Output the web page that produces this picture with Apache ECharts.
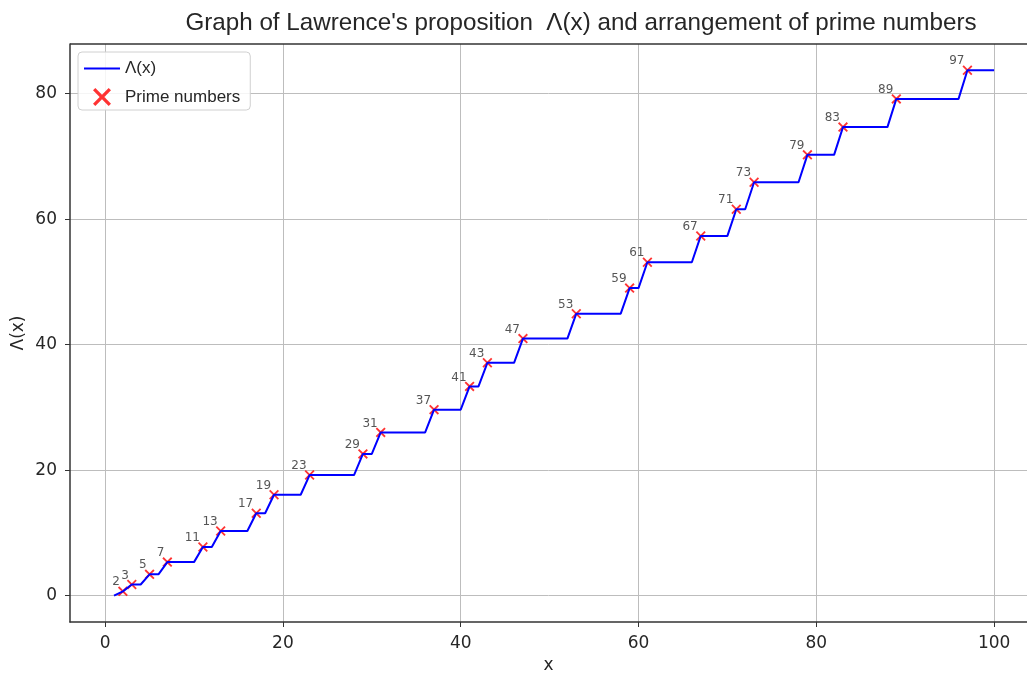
<!DOCTYPE html>
<html>
<head>
<meta charset="utf-8">
<script src="https://cdn.jsdelivr.net/npm/echarts@6/dist/echarts.min.js"></script>
<style>html,body{margin:0;padding:0;background:#fff}#c{width:1027px;height:673px}</style>
</head>
<body>
<div id="c"></div>
<script>
const primes = [2,3,5,7,11,13,17,19,23,29,31,37,41,43,47,53,59,61,67,71,73,79,83,89,97];
const lambdaAtPrimes = [0.69,1.79,3.40,5.35,7.75,10.31,13.14,16.08,19.22,22.59,26.02,29.64,33.35,37.11,40.96,44.93,49.01,53.12,57.32,61.58,65.87,70.24,74.66,79.15,83.72];
const lineX = [1,2,3,4,5,6,7,10,11,12,13,16,17,18,19,22,23,28,29,30,31,36,37,40,41,42,43,46,47,52,53,58,59,60,61,66,67,70,71,72,73,78,79,82,83,88,89,96,97,100];
const lineY = [0,0.69,1.79,1.79,3.40,3.40,5.35,5.35,7.75,7.75,10.31,10.31,13.14,13.14,16.08,16.08,19.22,19.22,22.59,22.59,26.02,26.02,29.64,29.64,33.35,33.35,37.11,37.11,40.96,40.96,44.93,44.93,49.01,49.01,53.12,53.12,57.32,57.32,61.58,61.58,65.87,65.87,70.24,70.24,74.66,74.66,79.15,79.15,83.72,83.72];
const xTicks = [0,20,40,60,80,100];
const yTicks = [0,20,40,60,80];

const txt = '#262626';
const font = 'Liberation Sans, Arial, sans-serif';
const mfont = 'DejaVu Sans, sans-serif';
const crossPath = 'path://M0,1.3L1.3,0L5,3.7L8.7,0L10,1.3L6.3,5L10,8.7L8.7,10L5,6.3L1.3,10L0,8.7L3.7,5Z';

const chart = echarts.init(document.getElementById('c'), null, {renderer: 'canvas'});
chart.setOption({
  animation: false,
  backgroundColor: '#fff',
  textStyle: {fontFamily: font},
  title: {
    text: "Graph of Lawrence's proposition  \u039b(x) and arrangement of prime numbers",
    left: 576, top: 6, textAlign: 'center',
    textStyle: {fontSize: 24.2, fontWeight: 'normal', color: txt, fontFamily: font}
  },
  legend: {
    orient: 'vertical', left: 78, top: 52,
    padding: [8, 10, 4, 6],
    itemGap: 11, itemWidth: 36, itemHeight: 18,
    borderColor: '#d0d0d0', borderWidth: 1, borderRadius: 4,
    backgroundColor: 'rgba(255,255,255,0.85)',
    textStyle: {fontSize: 17, color: txt, fontFamily: font},
    data: [
      {name: '\u039b(x)', icon: 'path://M0,8H36V10H0Z'},
      {name: 'Prime numbers', icon: crossPath}
    ]
  },
  grid: {left: 70, top: 44, width: 957, height: 578, outerBoundsMode: 'none', containLabel: false},
  xAxis: {
    type: 'value', min: -3.95, max: 103.7,
    name: 'x', nameLocation: 'middle', nameGap: 35,
    nameTextStyle: {fontSize: 17, color: txt, fontFamily: mfont},
    axisLine: {show: true, onZero: false, lineStyle: {color: '#333', width: 1.5}},
    axisTick: {show: true, length: 5, customValues: xTicks, lineStyle: {color: '#333'}},
    axisLabel: {customValues: xTicks, fontSize: 17, color: txt, margin: 13, fontFamily: mfont},
    splitLine: {show: true, lineStyle: {color: '#bdbdbd', width: 1}}
  },
  yAxis: {
    type: 'value', min: -4.19, max: 87.9,
    name: '\u039b(x)', nameLocation: 'middle', nameGap: 43, nameRotate: 90,
    nameMoveOverlap: false,
    nameTextStyle: {fontSize: 17, color: txt, fontFamily: mfont},
    axisLine: {show: true, onZero: false, lineStyle: {color: '#333', width: 1.5}},
    axisTick: {show: true, length: 5, customValues: yTicks, lineStyle: {color: '#333'}},
    axisLabel: {customValues: yTicks, fontSize: 17, color: txt, margin: 13, fontFamily: mfont},
    splitLine: {show: true, lineStyle: {color: '#bdbdbd', width: 1}}
  },
  graphic: [{
    type: 'line', shape: {x1: 70, y1: 44, x2: 1027, y2: 44},
    style: {stroke: '#333', lineWidth: 1.5}, z: 10, silent: true
  }],
  series: [
    {
      name: 'Prime numbers', type: 'scatter', z: 2,
      symbol: crossPath, symbolSize: 10,
      itemStyle: {color: '#ff0000'},
      data: primes.map((p, i) => [p, lambdaAtPrimes[i]]),
      label: {
        show: true, formatter: p => String(p.value[0]),
        position: [2, 2], align: 'right', verticalAlign: 'bottom',
        fontSize: 12, color: '#2a2a2a', fontFamily: mfont
      }
    },
    {
      name: '\u039b(x)', type: 'line', z: 3,
      symbol: 'none', showSymbol: false,
      lineStyle: {color: '#0000ff', width: 2},
      itemStyle: {color: '#0000ff'},
      data: lineX.map((x, i) => [x, lineY[i]])
    }
  ]
});
</script>
</body>
</html>
